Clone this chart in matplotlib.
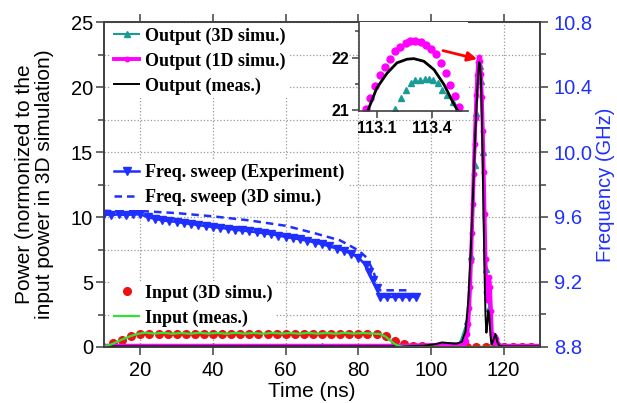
import matplotlib
matplotlib.use('Agg')
import matplotlib.pyplot as plt
from matplotlib.ticker import MultipleLocator, FormatStrFormatter
from matplotlib.lines import Line2D

# ---- data ----
# output power, measured (black)
t_out_meas = [10, 30, 50, 70, 90, 98, 101, 103, 105, 107, 108.5, 109.5, 110.25, 110.75, 111.25, 111.75,
              112.25, 112.75, 113.0, 113.25, 113.5, 113.75, 114.0, 114.25, 114.5, 114.75, 115.0, 115.25,
              115.5, 115.75, 116.0, 116.25, 116.5, 116.75, 117.25, 117.75, 118.25, 118.75, 120, 125, 130]
p_out_meas = [0.05, 0.05, 0.05, 0.05, 0.05, 0.1, 0.2, 0.35, 0.3, 0.25, 0.4, 1.2, 3.5, 6.2, 9.5, 13.2,
              16.8, 19.8, 21.0, 21.9, 21.8, 20.5, 17.8, 13.8, 9.5, 5.5, 2.4, 1.1,
              1.8, 2.8, 2.5, 1.4, 0.5, 0.2, 0.6, 1.0, 0.4, 0.1, 0.05, 0.05, 0.05]

# output power, 1D simulation (magenta)
t_out_1d = [10, 20, 30, 40, 50, 60, 70, 80, 90, 100, 104, 108.0, 108.5, 109.0, 109.5, 110.0, 110.25, 110.5,
            110.75, 111.0, 111.25, 111.5, 111.75, 112.0, 112.25, 112.5, 112.75, 113.0, 113.25, 113.5,
            113.75, 114.0, 114.25, 114.5, 114.75, 115.0, 115.25, 115.5, 115.75, 116.0, 116.25, 116.5,
            116.75, 117.0, 117.25, 117.5, 117.75, 118.0, 118.25, 118.5, 119.0, 120, 125, 130]
p_out_1d = [0.1, 0.1, 0.1, 0.1, 0.1, 0.1, 0.1, 0.1, 0.1, 0.15, 0.2, 0.2, 0.25, 0.3, 0.5, 1.0, 1.8, 3.0,
            4.6, 6.6, 8.8, 11.0, 13.3, 15.6, 17.6, 19.4, 20.9, 21.9, 22.3, 22.0,
            21.0, 19.2, 16.6, 13.5, 10.2, 6.8, 4.2, 3.6, 5.0, 5.4, 4.6, 2.8,
            1.0, 0.4, 0.5, 0.75, 0.8, 0.6, 0.3, 0.15, 0.1, 0.1, 0.1, 0.1]

# output power, 3D simulation (teal, mostly hidden under the others)
t_out_3d = [10, 40, 70, 100, 108, 110, 111, 112, 112.5, 113.0, 113.4, 113.8, 114.3, 115, 116, 117, 120, 130]
p_out_3d = [0.05, 0.05, 0.05, 0.1, 0.3, 2.0, 7.0, 14.0, 18.0, 20.8, 21.6, 20.5, 15.0, 6.0, 3.0, 0.5, 0.1, 0.05]

# input power, 3D simulation (red dots) and measured (green)
t_in_3d = [12.5, 15, 17.5, 20, 22.5, 25, 27.5, 30, 32.5, 35, 37.5, 40, 42.5, 45, 47.5, 50, 52.5, 55,
           57.5, 60, 62.5, 65, 67.5, 70, 72.5, 75, 77.5, 80, 82.5, 85, 87.5, 90, 92.5, 95, 97.5, 100,
           102.5, 105, 107.5, 110, 112.5, 115, 117.5, 120, 122.5, 125, 127.5]
p_in_3d = [0.3, 0.55, 0.85, 1.0, 1.02, 0.98, 1.0, 0.97, 1.0, 1.02, 0.98, 1.0, 0.97, 1.0, 1.02, 0.99, 1.0,
           0.97, 1.0, 1.02, 0.98, 1.0, 0.97, 1.0, 1.02, 0.99, 1.0, 0.98, 1.0, 0.97, 0.82, 0.45, 0.22, 0.1,
           0.05, 0.03, 0.03, 0.03, 0.03, 0.03, 0.03, 0.03, 0.03, 0.03, 0.03, 0.03, 0.03]
t_in_meas = [10, 12, 14, 16, 18, 19.5, 21.25, 23.75, 26.25, 28.75, 31.25, 33.75, 36.25, 38.75, 41.25,
             43.75, 46.25, 48.75, 51.25, 53.75, 56.25, 58.75, 61.25, 63.75, 66.25, 68.75, 71.25, 73.75,
             76.25, 78.75, 81.25, 83.75, 86, 87.5, 89, 90.5, 92, 95, 100, 130]
p_in_meas = [0.05, 0.2, 0.45, 0.7, 0.9, 1.02, 1.1, 1.03, 1.09, 1.02, 1.08, 1.02, 1.09, 1.03, 1.08,
             1.02, 1.09, 1.03, 1.08, 1.02, 1.09, 1.03, 1.08, 1.02, 1.09, 1.03, 1.08, 1.02,
             1.09, 1.03, 1.08, 1.03, 1.0, 0.8, 0.45, 0.15, 0.03, 0.0, 0.0, 0.0]

# frequency sweep (GHz, right axis)
t_sweep_exp = [10, 12, 14, 16, 18, 20, 22, 24, 26, 28, 30, 32, 34, 36, 38, 40, 42, 44, 46, 48, 50, 52,
               54, 56, 58, 60, 62, 64, 66, 68, 70, 72, 74, 76, 78, 80, 82, 83, 84, 85, 86, 88, 90, 92,
               94, 96]
f_sweep_exp = [9.616, 9.612, 9.616, 9.612, 9.616, 9.616, 9.600, 9.588, 9.580, 9.574, 9.570, 9.562,
               9.556, 9.550, 9.544, 9.538, 9.533, 9.528, 9.522, 9.517, 9.512, 9.506, 9.500, 9.494,
               9.486, 9.477, 9.470, 9.462, 9.454, 9.443, 9.432, 9.420, 9.406, 9.392, 9.375, 9.350,
               9.305, 9.26, 9.21, 9.165, 9.108, 9.108, 9.108, 9.108, 9.108, 9.108]
t_sweep_3d = [10, 20, 30, 40, 50, 60, 68, 75, 80, 82.3, 84.2, 85.5, 86, 94]
f_sweep_3d = [9.637, 9.637, 9.624, 9.604, 9.579, 9.546, 9.50, 9.456, 9.395, 9.35, 9.262, 9.165, 9.149, 9.149]

# zoomed-in peak (inset)
t_zoom_meas = [113.05, 113.098, 113.154, 113.209, 113.265, 113.302, 113.357, 113.413, 113.469, 113.515, 113.546]
p_zoom_meas = [21.0, 21.42, 21.7, 21.9, 21.97, 21.98, 21.93, 21.77, 21.48, 21.16, 20.97]
t_zoom_1d = [113.039, 113.061, 113.089, 113.117, 113.144, 113.172, 113.2, 113.228, 113.256, 113.283,
             113.311, 113.339, 113.367, 113.394, 113.422, 113.45, 113.478, 113.502, 113.528, 113.552]
p_zoom_1d = [21.01, 21.22, 21.45, 21.67, 21.83, 21.97, 22.12, 22.2, 22.27, 22.31,
             22.31, 22.29, 22.25, 22.17, 22.06, 21.9, 21.7, 21.48, 21.26, 21.05]
t_zoom_3d = [113.2, 113.232, 113.261, 113.287, 113.311, 113.335, 113.361, 113.385, 113.41, 113.435,
             113.459, 113.487, 113.515, 113.543]
p_zoom_3d = [21.01, 21.22, 21.38, 21.51, 21.58, 21.58, 21.6, 21.6, 21.58, 21.52, 21.38, 21.28, 21.16, 21.03]

MAGENTA = '#ff00ff'
TEAL = '#1a9c96'
GREEN = '#33e033'
RED = '#ee1111'
BLUE = '#1f2fff'
SPINE = '#404040'

legend_font = {'family': 'Liberation Serif', 'weight': 'bold', 'size': 13}
plt.rcParams['font.family'] = ['Liberation Sans', 'DejaVu Sans']

fig = plt.figure(figsize=(6.17, 4.03), dpi=100)
ax = fig.add_axes([104 / 617, 1 - 347 / 403, 436 / 617, 325 / 403])
ax2 = ax.twinx()

# power curves
l_out3d, = ax.plot(t_out_3d, p_out_3d, color=TEAL, lw=1.5, marker='^', ms=5, zorder=2)
ax.plot(t_in_3d, p_in_3d, ls='none', marker='o', ms=5.5, color=RED, zorder=2.5)
l_out1d, = ax.plot(t_out_1d, p_out_1d, color=MAGENTA, lw=2.8, marker='o', ms=3.2,
                   markevery=slice(11, 50), zorder=3)
l_outm, = ax.plot(t_out_meas, p_out_meas, color='black', lw=1.4, zorder=4)
l_inm, = ax.plot(t_in_meas, p_in_meas, color=GREEN, lw=1.6, zorder=5)
l_in3d = Line2D([], [], ls='none', marker='o', ms=5.5, color=RED)

# frequency sweep on right axis
l_fexp, = ax2.plot(t_sweep_exp, f_sweep_exp, color=BLUE, lw=1.8, marker='v', ms=5.5)
l_f3d, = ax2.plot(t_sweep_3d, f_sweep_3d, color=BLUE, lw=1.8, ls=(0, (3, 2)))

ax.set_xlim(10, 130)
ax.set_ylim(0, 25)
ax2.set_ylim(8.8, 10.8)

ax.xaxis.set_major_locator(MultipleLocator(20))
ax.yaxis.set_major_locator(MultipleLocator(5))
ax.yaxis.set_minor_locator(MultipleLocator(2.5))
ax2.yaxis.set_major_locator(MultipleLocator(0.4))
ax2.yaxis.set_minor_locator(MultipleLocator(0.2))
ax2.yaxis.set_major_formatter(FormatStrFormatter('%.1f'))

ax.grid(True, which='both', axis='y', color='#999999', ls=':', lw=0.9)
ax.grid(True, which='major', axis='x', color='#999999', ls=':', lw=0.9)
ax.set_axisbelow(True)

ax.tick_params(axis='both', which='major', labelsize=14.5, length=6, width=1.1, color=SPINE)
ax.tick_params(axis='y', which='major', direction='out', pad=2)
ax.tick_params(axis='y', which='minor', direction='out', length=4, width=1.1, color=SPINE)
ax.tick_params(axis='x', which='major', direction='out', top=True, pad=4)
ax2.tick_params(axis='y', which='major', labelsize=14.5, direction='out', length=6, width=1.1,
                color=SPINE, labelcolor=BLUE, pad=4)
ax2.tick_params(axis='y', which='minor', direction='out', length=4, width=1.1, color=SPINE)
for a in (ax, ax2):
    for s in a.spines.values():
        s.set_color(SPINE)
        s.set_linewidth(1.2)

ax.set_xlabel('Time (ns)', fontsize=15)
ax.xaxis.set_label_coords(0.477, -0.108)
ax.set_ylabel('Power (normonized to the\ninput power in 3D simulation)', fontsize=15, linespacing=1.05)
ax.yaxis.set_label_coords(-0.115, 0.5)
ax2.set_ylabel('Frequency (GHz)', fontsize=14.5, color=BLUE, labelpad=2)

# legends
leg_kw = dict(loc='center left', prop=legend_font, numpoints=1, handlelength=1.4, handletextpad=0.3,
              labelspacing=0.42, borderpad=0.2, borderaxespad=0, frameon=True, fancybox=False,
              edgecolor='none', framealpha=1)
leg1 = ax.legend([l_out3d, l_out1d, l_outm], ['Output (3D simu.)', 'Output (1D simu.)', 'Output (meas.)'],
                 bbox_to_anchor=(0.015, 0.88), **leg_kw)
ax.add_artist(leg1)
ax.legend([l_in3d, l_inm], ['Input (3D simu.)', 'Input (meas.)'],
          bbox_to_anchor=(0.015, 0.128), **leg_kw)
ax2.legend([l_fexp, l_f3d], ['Freq. sweep (Experiment)', 'Freq. sweep (3D simu.)'],
           bbox_to_anchor=(0.015, 0.498), **leg_kw)

# inset
axin = fig.add_axes([359 / 617, 1 - 111 / 403, 109 / 617, 89 / 403])
axin.plot(t_zoom_3d, p_zoom_3d, ls='none', marker='^', ms=5, color=TEAL)
axin.plot(t_zoom_1d, p_zoom_1d, ls='none', marker='o', ms=5, color=MAGENTA)
axin.plot(t_zoom_meas, p_zoom_meas, color='black', lw=2)
axin.set_xlim(113.0, 113.6)
axin.set_ylim(20.98, 22.68)
axin.xaxis.set_major_formatter(FormatStrFormatter('%.1f'))
axin.set_xticks([113.1, 113.4])
axin.yaxis.set_major_locator(MultipleLocator(1))
axin.yaxis.set_minor_locator(MultipleLocator(0.5))
axin.tick_params(axis='both', which='major', labelsize=11.5, length=5, width=1.1, color=SPINE, pad=2)
axin.tick_params(axis='y', which='minor', length=3, width=1.1, color=SPINE)
for lab in axin.get_xticklabels() + axin.get_yticklabels():
    lab.set_fontweight('bold')
axin.spines['top'].set_visible(False)
axin.spines['right'].set_visible(False)
for s in ('left', 'bottom'):
    axin.spines[s].set_color(SPINE)
    axin.spines[s].set_linewidth(1.2)

# arrow pointing to the peak
axin.annotate('', xy=(112.7, 22.15), xycoords=ax.transData, xytext=(103.3, 22.8),
              textcoords=ax.transData, annotation_clip=False,
              arrowprops=dict(arrowstyle='-|>', color='red', lw=2, mutation_scale=14, shrinkA=0, shrinkB=0))

plt.savefig('out.png', dpi=100)
